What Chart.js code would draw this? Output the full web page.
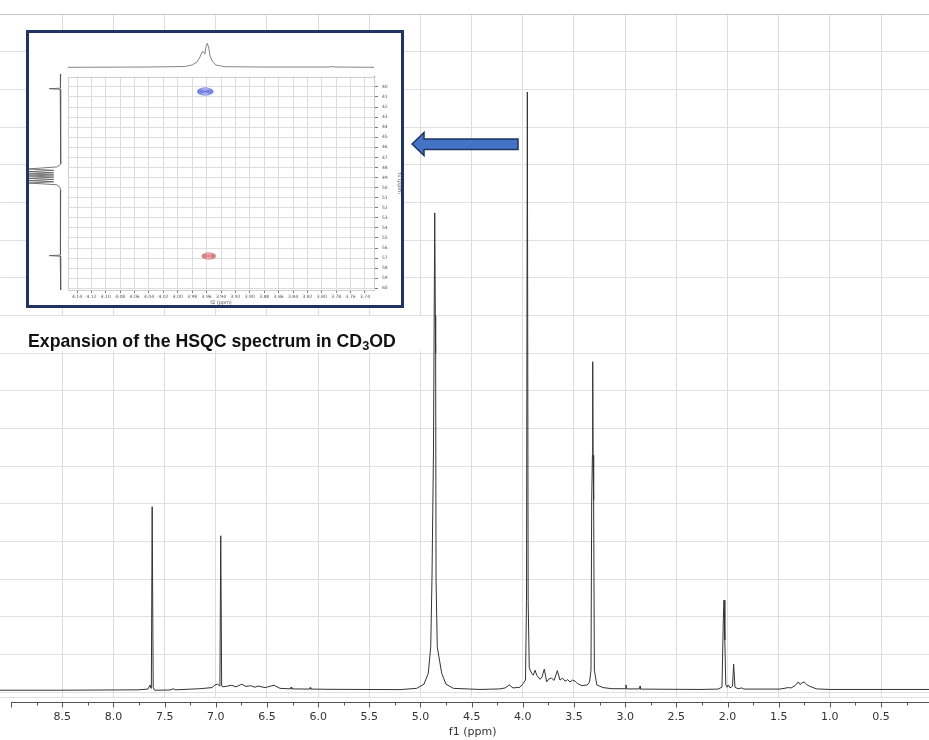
<!DOCTYPE html>
<html>
<head>
<meta charset="utf-8">
<title>1H NMR spectrum with HSQC expansion</title>
<script src="https://cdn.jsdelivr.net/npm/chart.js@4.4.1/dist/chart.umd.min.js"></script>
<style>
  html, body { margin: 0; padding: 0; background: #fff; }
  #wrap { position: relative; width: 929px; height: 740px; overflow: hidden; }
  #wrap canvas { position: absolute; }
  #main { left: 0; top: 0; }
  #inset { position: absolute; left: 26px; top: 30px; width: 378px; height: 278px;
           box-sizing: border-box; border: 3px solid #1f3461; background: #fff; overflow: hidden; }
  #f2trace { left: 33px; top: 7px; }
  #f1trace { left: 0px; top: 41px; }
  #hsqc { left: 33px; top: 37px; }
  #captionBox { position: absolute; left: 20px; top: 316px; width: 405px; height: 35px; background: #fff; }
  #caption { position: absolute; left: 28px; top: 331px; line-height: 20px; white-space: nowrap;
             font-family: "Liberation Sans", Arial, sans-serif; font-weight: bold; font-size: 17.7px; color: #111; }
  #caption .sub { font-size: 0.72em; position: relative; top: 0.22em; }
</style>
</head>
<body>
<div id="wrap">
  <canvas id="main" width="929" height="740"></canvas>
  <div id="inset">
    <canvas id="f2trace" width="340" height="30"></canvas>
    <canvas id="f1trace" width="33" height="216"></canvas>
    <canvas id="hsqc" width="340" height="236"></canvas>
  </div>
  <div id="captionBox"></div>
  <div id="caption">Expansion of the HSQC spectrum in CD<span class="sub">3</span>OD</div>
</div>
<script>
// ---- 1H spectrum (CD3OD): chemical shift (ppm) and intensity ----
const shiftPpm = [
  9.11, 8.52, 7.76, 7.663, 7.643, 7.633, 7.630, 7.622, 7.612, 7.599,
  7.448, 7.409, 7.400, 7.155, 7.037, 7.008, 6.983, 6.960, 6.952, 6.943,
  6.930, 6.845, 6.803, 6.747, 6.705, 6.659, 6.617, 6.588, 6.519, 6.431,
  6.373, 6.270, 6.265, 6.258, 6.085, 6.079, 6.072, 5.884, 5.200, 5.037,
  4.966, 4.924, 4.900, 4.888, 4.873, 4.861, 4.855, 4.852, 4.848, 4.836,
  4.793, 4.751, 4.679, 4.419, 4.223, 4.174, 4.132, 4.096, 4.028, 3.996,
  3.974, 3.964, 3.956, 3.948, 3.937, 3.913, 3.898, 3.881, 3.864, 3.832,
  3.813, 3.790, 3.767, 3.744, 3.718, 3.695, 3.663, 3.637, 3.612, 3.588,
  3.563, 3.539, 3.514, 3.490, 3.468, 3.422, 3.370, 3.348, 3.334, 3.327,
  3.320, 3.317, 3.314, 3.308, 3.301, 3.277, 3.217, 3.129, 2.997, 2.992,
  2.987, 2.860, 2.855, 2.850, 2.269, 2.093, 2.054, 2.041, 2.034, 2.026,
  2.017, 2.005, 1.992, 1.976, 1.951, 1.940, 1.927, 1.898, 1.861, 1.839,
  1.487, 1.406, 1.379, 1.340, 1.308, 1.291, 1.275, 1.252, 1.226, 1.194,
  1.129, 1.000, 0.030
];
const intensity = [
  0.05, 0.05, 0.06, 0.08, 0.19, 0.10, 0.16, 4.92, 0.13, 0.05,
  0.056, 0.09, 0.06, 0.09, 0.12, 0.19, 0.21, 0.16, 4.15, 0.16,
  0.14, 0.18, 0.14, 0.21, 0.15, 0.17, 0.13, 0.16, 0.12, 0.18,
  0.10, 0.085, 0.13, 0.085, 0.08, 0.12, 0.08, 0.074, 0.066, 0.10,
  0.21, 0.50, 1.20, 2.97, 6.43, 12.72, 9.99, 9.00, 2.97, 1.20,
  0.50, 0.21, 0.10, 0.07, 0.085, 0.11, 0.19, 0.11, 0.13, 0.23,
  0.32, 2.44, 15.93, 2.44, 0.63, 0.50, 0.45, 0.58, 0.45, 0.34,
  0.40, 0.61, 0.27, 0.35, 0.37, 0.31, 0.57, 0.32, 0.37, 0.29,
  0.33, 0.27, 0.32, 0.29, 0.23, 0.17, 0.19, 0.27, 0.58, 5.10,
  6.29, 8.77, 6.29, 5.10, 0.58, 0.19, 0.12, 0.09, 0.09, 0.19,
  0.085, 0.085, 0.16, 0.08, 0.07, 0.08, 0.13, 1.91, 2.44, 1.38,
  0.21, 0.13, 0.19, 0.11, 0.16, 0.74, 0.13, 0.09, 0.11, 0.08,
  0.08, 0.12, 0.11, 0.17, 0.27, 0.20, 0.24, 0.27, 0.20, 0.15,
  0.085, 0.07, 0.07
];
const ppmLabels = [8.5, 8.0, 7.5, 7.0, 6.5, 6.0, 5.5, 5.0, 4.5, 4.0, 3.5, 3.0, 2.5, 2.0, 1.5, 1.0, 0.5];
const intensityGrid = [-0.13, 0, 1, 2, 3, 4, 5, 6, 7, 8, 9, 10, 11, 12, 13, 14, 15, 16, 17, 18];

// ---- HSQC expansion ----
const f2Labels = [4.14, 4.12, 4.10, 4.08, 4.06, 4.04, 4.02, 4.00, 3.98, 3.96, 3.94,
                  3.92, 3.90, 3.88, 3.86, 3.84, 3.82, 3.80, 3.78, 3.76, 3.74];
const f1Labels = [40, 41, 42, 43, 44, 45, 46, 47, 48, 49, 50, 51, 52, 53, 54, 55, 56, 57, 58, 59, 60];
const crossF2 = [3.962, 3.957];
const crossF1 = [40.46, 56.80];
// projection along f2 (1H)
const projF2Shift = [4.1525, 4.038, 3.990, 3.980, 3.973, 3.969, 3.966, 3.964, 3.962, 3.961,
                     3.959, 3.957, 3.955, 3.952, 3.947, 3.934, 3.886, 3.790, 3.786, 3.782, 3.7275];
const projF2Int   = [0, 0.3, 0.8, 2.3, 5.3, 10.3, 15.3, 15.6, 13.3, 19.3,
                     24.0, 20.3, 11.3, 6.3, 2.3, 0.6, 0.3, 0.3, 0.8, 0.3, 0];
// projection along f1 (13C)
const projF1Shift = [38.99, 40.20, 40.38, 40.43, 40.50, 40.70, 47.80, 47.90, 48.10, 48.30,
                     48.44, 48.57, 48.68, 48.79, 48.89, 48.99, 49.10, 49.22, 49.33, 49.45,
                     49.56, 49.68, 49.85, 50.10, 50.40, 56.60, 56.75, 56.80, 56.86, 57.00, 60.17];
const projF1Int   = [0, 0, 0.5, 11.4, 0.5, 0, 0, 0.8, 4, 32,
                     7, 32, 7, 32, 7, 32, 7, 32, 7, 32,
                     7, 32, 4, 0.8, 0, 0, 0.5, 11.4, 0.5, 0, 0];

const toXY = (xs, ys) => xs.map((x, i) => ({ x: x, y: ys[i] }));
const quiet = { legend: { display: false }, tooltip: { enabled: false } };

// axis line, tick marks and title of the ppm scale
const ppmAxis = {
  id: 'ppmAxis',
  afterDraw(chart) {
    const { ctx } = chart;
    const xs = chart.scales.x;
    const y0 = 702.5;
    ctx.save();
    ctx.strokeStyle = '#555';
    ctx.lineWidth = 1;
    ctx.beginPath();
    ctx.moveTo(Math.round(xs.getPixelForValue(9.0)), y0);
    ctx.lineTo(chart.width, y0);
    for (let q = 36; q >= 1; q--) {
      const v = q / 4;
      const px = Math.round(xs.getPixelForValue(v)) + 0.5;
      const len = (q % 2 === 0) ? 5 : 3;
      ctx.moveTo(px, y0);
      ctx.lineTo(px, y0 + len);
    }
    ctx.stroke();
    ctx.fillStyle = '#333';
    ctx.font = '11px "DejaVu Sans"';
    ctx.textAlign = 'center';
    ctx.textBaseline = 'middle';
    ctx.fillText('f1 (ppm)', xs.getPixelForValue(4.5) + 1, 732);
    ctx.restore();
  }
};

// block arrow pointing to the expansion
const pointer = {
  id: 'pointer',
  afterDraw(chart) {
    const { ctx } = chart;
    ctx.save();
    ctx.beginPath();
    ctx.moveTo(412, 144);
    ctx.lineTo(424, 132.5);
    ctx.lineTo(424, 139);
    ctx.lineTo(518, 139);
    ctx.lineTo(518, 149.5);
    ctx.lineTo(424, 149.5);
    ctx.lineTo(424, 155.5);
    ctx.closePath();
    ctx.fillStyle = '#4472c4';
    ctx.fill();
    ctx.strokeStyle = '#1f3461';
    ctx.lineWidth = 1.5;
    ctx.stroke();
    ctx.restore();
  }
};

new Chart(document.getElementById('main'), {
  type: 'scatter',
  data: { datasets: [{ data: toXY(shiftPpm, intensity), showLine: true, borderColor: '#333',
                       borderWidth: 1, pointRadius: 0, tension: 0 }] },
  options: {
    responsive: false, animation: false, events: [],
    layout: { padding: { top: 14, left: 0, right: 0, bottom: 0 } },
    plugins: quiet,
    scales: {
      x: {
        type: 'linear', reverse: true, min: 0.031, max: 9.109,
        afterBuildTicks: s => { s.ticks = ppmLabels.map(v => ({ value: v })); },
        afterFit: s => { s.height = 43; },
        grid: { color: '#dddddd', drawTicks: false },
        border: { display: false },
        ticks: { padding: 14, autoSkip: false, maxRotation: 0, color: '#333',
                 font: { family: 'DejaVu Sans', size: 11 }, callback: v => v.toFixed(1) }
      },
      y: {
        type: 'linear', min: -0.13, max: 18,
        afterBuildTicks: s => { s.ticks = intensityGrid.map(v => ({ value: v })); },
        afterFit: s => { s.width = 0; },
        grid: { color: c => (c.tick && c.tick.value === 18) ? '#c4c4c4' : '#e0e0e0', drawTicks: false },
        border: { display: false },
        ticks: { display: false }
      }
    }
  },
  plugins: [ppmAxis, pointer]
});

// contour glyphs for the cross peaks
function contourGlyph(w, h, fill) {
  const c = document.createElement('canvas');
  c.width = w; c.height = h;
  const g = c.getContext('2d');
  g.fillStyle = fill;
  g.beginPath();
  g.ellipse(w / 2, h / 2, w / 2 - 0.5, h / 2 - 0.5, 0, 0, Math.PI * 2);
  g.fill();
  g.strokeStyle = 'rgba(255,255,255,0.85)';
  g.lineWidth = 0.7;
  [0.72, 0.48, 0.25].forEach(k => {
    g.beginPath();
    g.ellipse(w / 2, h / 2, (w / 2) * k, (h / 2) * k, 0, 0, Math.PI * 2);
    g.stroke();
  });
  return c;
}

const F2_MIN = 3.7275, F2_MAX = 4.1525, F1_MIN = 38.99, F1_MAX = 60.17;

const frame = {
  id: 'frame',
  beforeDatasetsDraw(chart) {
    const { ctx, chartArea: a } = chart;
    ctx.save();
    ctx.strokeStyle = '#cfcfcf';
    ctx.lineWidth = 1;
    ctx.strokeRect(Math.round(a.left) + 0.5, Math.round(a.top) + 0.5,
                   Math.round(a.right - a.left), Math.round(a.bottom - a.top));
    ctx.restore();
  }
};

new Chart(document.getElementById('hsqc'), {
  type: 'scatter',
  data: {
    datasets: [
      { data: [{ x: crossF2[0], y: crossF1[0] }], pointStyle: contourGlyph(17, 9, '#4656d4'), pointRadius: 5 },
      { data: [{ x: crossF2[1], y: crossF1[1] }], pointStyle: contourGlyph(15, 8, '#c94444'), pointRadius: 5 }
    ]
  },
  options: {
    responsive: false, animation: false, events: [],
    layout: { padding: { left: 5.7, top: 4, right: 0, bottom: 0 } },
    plugins: quiet,
    scales: {
      x: {
        type: 'linear', reverse: true, min: F2_MIN, max: F2_MAX, position: 'bottom',
        afterBuildTicks: s => { s.ticks = f2Labels.map(v => ({ value: v })); },
        afterFit: s => { s.height = 16; },
        grid: { color: '#dcdcdc', tickColor: '#777', tickLength: 3 },
        border: { color: '#888' },
        ticks: { padding: 1, autoSkip: false, maxRotation: 0, color: '#555',
                 font: { family: 'DejaVu Sans', size: 4.5 }, callback: v => v.toFixed(2) },
        title: { display: true, text: 'f2 (ppm)', color: '#555', padding: 0,
                 font: { family: 'DejaVu Sans', size: 5 } }
      },
      y: {
        type: 'linear', reverse: true, min: F1_MIN, max: F1_MAX, position: 'right',
        afterBuildTicks: s => { s.ticks = f1Labels.map(v => ({ value: v })); },
        afterFit: s => { s.width = 28; },
        grid: { color: '#dcdcdc', tickColor: '#777', tickLength: 4 },
        border: { color: '#888' },
        ticks: { padding: 4, autoSkip: false, color: '#555',
                 font: { family: 'DejaVu Sans', size: 4.5 } },
        title: { display: true, text: 'f1 (ppm)', color: '#555', padding: 0,
                 font: { family: 'DejaVu Sans', size: 5 } }
      }
    }
  },
  plugins: [frame]
});

new Chart(document.getElementById('f2trace'), {
  type: 'scatter',
  data: { datasets: [{ data: toXY(projF2Shift, projF2Int), showLine: true, borderColor: '#666',
                       borderWidth: 0.8, pointRadius: 0 }] },
  options: {
    responsive: false, animation: false, events: [],
    layout: { padding: { left: 5.7, right: 28, top: 0, bottom: 0 } },
    plugins: quiet,
    scales: {
      x: { type: 'linear', reverse: true, min: F2_MIN, max: F2_MAX, display: false },
      y: { type: 'linear', min: -2.7, max: 27.3, display: false }
    }
  }
});

new Chart(document.getElementById('f1trace'), {
  type: 'scatter',
  data: { datasets: [{ data: toXY(projF1Int, projF1Shift), showLine: true, borderColor: '#555',
                       borderWidth: 0.8, pointRadius: 0 }] },
  options: {
    responsive: false, animation: false, events: [],
    layout: { padding: 0 },
    plugins: quiet,
    scales: {
      x: { type: 'linear', reverse: true, min: -1.3, max: 31.7, display: false },
      y: { type: 'linear', reverse: true, min: F1_MIN, max: F1_MAX, display: false }
    }
  }
});
</script>
</body>
</html>
